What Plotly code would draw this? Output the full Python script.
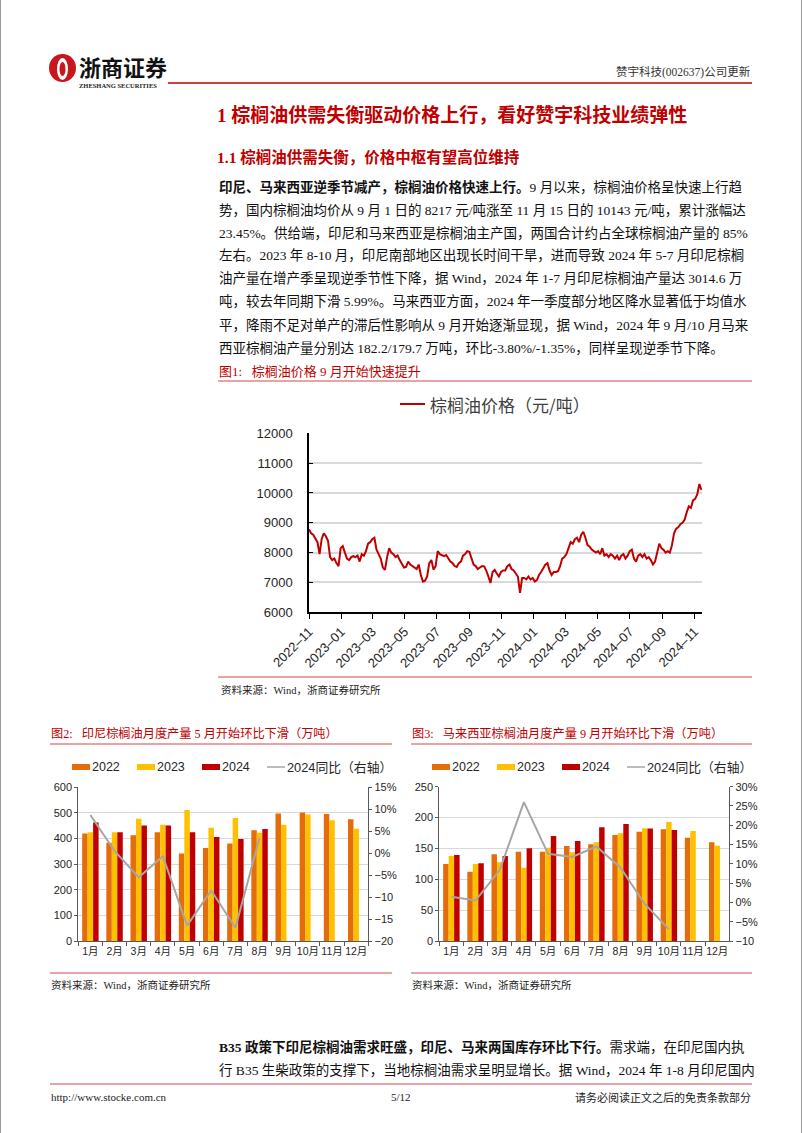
import plotly.graph_objects as go
import pandas as pd

W, H = 802, 1133

# ---------------- data ----------------
price_start = "2022-11-01"
price_step = "4D"
palm_price = [
    8780, 8650, 8600, 8450, 8350, 7950, 8450, 8650, 8550, 8400,
    7850, 7750, 7800, 7650, 7550, 8150, 8220, 8000, 7800, 7750,
    7850, 7880, 7850, 7900, 7700, 7950, 7900, 8050, 8300, 8350,
    8450, 8500, 8100, 7950, 7800, 7500, 7420, 7850, 8150, 8000,
    7950, 7850, 7900, 7750, 7600, 7500, 7520, 7700, 7600, 7550,
    7500, 7450, 7600, 7250, 7030, 7060, 7200, 7650, 7750, 7430,
    7550, 8050, 7950, 7900, 7880, 7920, 7800, 7700, 7650, 7550,
    7520, 7650, 7700, 7900, 7950, 8050, 8030, 7800, 7600, 7550,
    7450, 7500, 7550, 7540, 7400, 7200, 6980, 7350, 7420, 7300,
    7200, 7350, 7400, 7400, 7550, 7600, 7450, 7400, 7300, 7200,
    6650, 7150, 7150, 7100, 7200, 7100, 7150, 7030, 7080, 7250,
    7350, 7500, 7600, 7650, 7400, 7250, 7350, 7350, 7380, 7550,
    7800, 7850, 7950, 8150, 8350, 8300, 8450, 8500, 8350, 8600,
    8700, 8500, 8250, 8200, 8100, 8050, 8000, 8050, 7950, 8150,
    7900, 7950, 7850, 7950, 7900, 7800, 7900, 7750, 7900, 7950,
    7800, 7900, 8050, 8100, 7800, 7700, 7900, 7950, 7850, 7950,
    7800, 7850, 7750, 7600, 7700, 8000, 8300, 8150, 8100, 8000,
    8050, 8000, 8250, 8650, 8800, 8850, 8950, 9000, 9100, 9350,
    9550, 9500, 9750, 9800, 9950, 10300, 10100,
]
price_dates = pd.date_range(price_start, periods=len(palm_price), freq=price_step)

months = ["1月", "2月", "3月", "4月", "5月", "6月", "7月", "8月", "9月", "10月", "11月", "12月"]

indo_2022 = [420, 384, 413, 425, 342, 363, 381, 432, 498, 502, 496, 475]
indo_2023 = [425, 425, 477, 454, 511, 442, 480, 423, 454, 494, 471, 438]
indo_2024 = [463, 425, 451, 451, 425, 406, 398, 437]
indo_yoy = [8.7, 0.5, -5.5, -0.7, -16.5, -8.5, -17.0, 3.5]

malay_2022 = [124.7, 112.3, 140.4, 144.7, 144.7, 153.9, 156.6, 171.7, 177.0, 180.9, 167.3, 159.9]
malay_2023 = [137.7, 124.7, 127.4, 118.5, 151.2, 143.7, 159.9, 174.5, 182.5, 192.8, 178.2, 154.4]
malay_2024 = [139.3, 125.8, 137.7, 150.2, 170.1, 162.0, 184.2, 189.5, 182.2, 179.7]
malay_yoy = [1.5, 0.5, 8.4, 26.0, 12.6, 11.8, 14.5, 9.0, -0.4, -7.0]

indo_right_vals = [-20, -15, -10, -5, 0, 5, 10, 15]
indo_right_text = ["−20", "−15", "−10", "−5%", "0%", "5%", "10%", "15%"]
malay_right_vals = [-10, -5, 0, 5, 10, 15, 20, 25, 30]
malay_right_text = ["−10", "−5%", "0%", "5%", "10%", "15%", "20%", "25%", "30%"]

series_names = ["2022", "2023", "2024"]
yoy_name = "2024同比（右轴）"

# ---------------- styles ----------------
C22, C23, C24 = "#E46C0A", "#FFC000", "#C00000"
CGREY = "#A6A6A6"
RED = "#C00000"
LRED = "#D24B4B"
SERIF = "Liberation Serif, Noto Sans CJK SC"
SANS = "Liberation Sans, Arial"
MIX = "Liberation Sans, Noto Sans CJK SC"
CJK = "Noto Sans CJK SC"
GRID = "#D9D9D9"


def px(x):
    return x / W


def py(y):
    return 1 - y / H


fig = go.Figure()

fig.add_trace(go.Scatter(x=price_dates, y=palm_price, mode="lines",
                         line=dict(color=RED, width=2), xaxis="x", yaxis="y",
                         name="棕榈油价格（元/吨）", showlegend=False))

for name, vals, col in zip(series_names, [indo_2022, indo_2023, indo_2024], [C22, C23, C24]):
    fig.add_trace(go.Bar(x=months[:len(vals)], y=vals, marker=dict(color=col, line=dict(width=0)),
                         xaxis="x2", yaxis="y2", name=name, showlegend=False))
fig.add_trace(go.Scatter(x=months[:len(indo_yoy)], y=indo_yoy, mode="lines",
                         line=dict(color=CGREY, width=2), xaxis="x2", yaxis="y3",
                         name=yoy_name, showlegend=False))

for name, vals, col in zip(series_names, [malay_2022, malay_2023, malay_2024], [C22, C23, C24]):
    fig.add_trace(go.Bar(x=months[:len(vals)], y=vals, marker=dict(color=col, line=dict(width=0)),
                         xaxis="x3", yaxis="y4", name=name, showlegend=False))
fig.add_trace(go.Scatter(x=months[:len(malay_yoy)], y=malay_yoy, mode="lines",
                         line=dict(color=CGREY, width=2), xaxis="x3", yaxis="y5",
                         name=yoy_name, showlegend=False))

axis_font = dict(family=SANS, size=11, color="#262626")
month_font = dict(family=MIX, size=10.5, color="#262626")

fig.update_layout(
    width=W, height=H, margin=dict(l=0, r=0, t=0, b=0, pad=0, autoexpand=False),
    paper_bgcolor="white", plot_bgcolor="white",
    barmode="group", bargap=0.32, bargroupgap=0,
    showlegend=False,
    xaxis=dict(domain=[px(309), px(702)], anchor="y", type="date", automargin=False,
               range=["2022-11-01", "2024-11-15"], tick0="2022-11-01", dtick="M2",
               tickformat="%Y–%m", tickangle=-45, ticks="outside", ticklen=5,
               tickcolor="#000", showline=True, linecolor="#000", linewidth=1.5,
               showgrid=False, zeroline=False,
               tickfont=dict(family=SANS, size=13, color="#262626")),
    yaxis=dict(domain=[py(612.3), py(433.3)], anchor="x", range=[6000, 12000], dtick=1000,
               tickformat="d", automargin=False,
               showgrid=True, gridcolor=GRID, gridwidth=1.5, showline=True, linecolor="#000",
               linewidth=1.5, ticks="inside", ticklen=4, tickcolor="#000", zeroline=False,
               ticklabelstandoff=12,
               tickfont=dict(family=SANS, size=13, color="#262626")),
    xaxis2=dict(domain=[px(78.3), px(368.3)], anchor="y2", type="category", automargin=False,
                categoryorder="array", categoryarray=months, range=[-0.5, 11.5],
                tickson="boundaries", ticks="outside", ticklen=4, tickcolor="#595959",
                tickangle=0, showline=True, linecolor="#595959", linewidth=1, showgrid=False,
                tickfont=month_font),
    yaxis2=dict(domain=[py(941), py(787.3)], anchor="x2", range=[0, 600], dtick=100,
                automargin=False,
                showgrid=True, gridcolor=GRID, gridwidth=1, showline=True, linecolor="#595959",
                ticks="outside", ticklen=3, tickcolor="#595959", zeroline=False,
                tickfont=axis_font),
    yaxis3=dict(overlaying="y2", side="right", anchor="x2", range=[-20, 15], automargin=False,
                tickmode="array", tickvals=indo_right_vals, ticktext=indo_right_text,
                showgrid=False, showline=True, linecolor="#595959", ticks="outside",
                ticklen=3, tickcolor="#595959", zeroline=False, tickfont=axis_font),
    xaxis3=dict(domain=[px(439.3), px(729.3)], anchor="y4", type="category", automargin=False,
                categoryorder="array", categoryarray=months, range=[-0.5, 11.5],
                tickson="boundaries", ticks="outside", ticklen=4, tickcolor="#595959",
                tickangle=0, showline=True, linecolor="#595959", linewidth=1, showgrid=False,
                tickfont=month_font),
    yaxis4=dict(domain=[py(941), py(786.7)], anchor="x3", range=[0, 250], dtick=50,
                automargin=False,
                showgrid=True, gridcolor=GRID, gridwidth=1, showline=True, linecolor="#595959",
                ticks="outside", ticklen=3, tickcolor="#595959", zeroline=False,
                tickfont=axis_font),
    yaxis5=dict(overlaying="y4", side="right", anchor="x3", range=[-10, 30], automargin=False,
                tickmode="array", tickvals=malay_right_vals, ticktext=malay_right_text,
                showgrid=False, showline=True, linecolor="#595959", ticks="outside",
                ticklen=3, tickcolor="#595959", zeroline=False, tickfont=axis_font),
)

shapes = []
annots = []


def hline(x0, x1, y, color, width=1.0):
    shapes.append(dict(type="line", xref="paper", yref="paper", x0=px(x0), x1=px(x1),
                       y0=py(y), y1=py(y), line=dict(color=color, width=width)))


def rect(x0, y0, x1, y1, color):
    shapes.append(dict(type="rect", xref="paper", yref="paper", x0=px(x0), x1=px(x1),
                       y0=py(y1), y1=py(y0), fillcolor=color, line=dict(width=0)))


def text(s, x, y, size, color="#000", family=SERIF, xanchor="left"):
    annots.append(dict(text=s, x=px(x), y=py(y), xref="paper", yref="paper",
                       xanchor=xanchor, yanchor="middle", showarrow=False,
                       font=dict(size=size, color=color, family=family), borderpad=0))


# page border
shapes.append(dict(type="line", xref="paper", yref="paper", x0=px(0.5), x1=px(0.5), y0=0, y1=1,
                   line=dict(color="#9a9a9a", width=1)))
shapes.append(dict(type="line", xref="paper", yref="paper", x0=px(801.5), x1=px(801.5), y0=0, y1=1,
                   line=dict(color="#9a9a9a", width=1)))

# logo
shapes.append(dict(type="circle", xref="paper", yref="paper", x0=px(49), x1=px(76), y0=py(82), y1=py(54),
                   fillcolor="#C8161D", line=dict(width=0)))
shapes.append(dict(type="circle", xref="paper", yref="paper", x0=px(57), x1=px(68), y0=py(80), y1=py(58),
                   fillcolor="white", line=dict(width=0)))
shapes.append(dict(type="circle", xref="paper", yref="paper", x0=px(59.5), x1=px(65.5), y0=py(76), y1=py(62),
                   fillcolor="#C8161D", line=dict(width=0)))
text("<b>浙商证券</b>", 78, 66, 22, "#111", CJK)
text("<b>ZHESHANG SECURITIES</b>", 78, 85, 6.5, "#222", "Liberation Serif")
text("赞宇科技(002637)公司更新", 752, 72, 11.5, "#333", SERIF, "right")
hline(168, 752, 83, RED, 1.5)

# titles
text("<b>1 棕榈油供需失衡驱动价格上行，看好赞宇科技业绩弹性</b>", 216, 115, 19, RED, SERIF)
text("<b>1.1 棕榈油供需失衡，价格中枢有望高位维持</b>", 216, 157, 15.5, RED, SERIF)

para = [
    "<b>印尼、马来西亚逆季节减产，棕榈油价格快速上行。</b>9 月以来，棕榈油价格呈快速上行趋",
    "势，国内棕榈油均价从 9 月 1 日的 8217 元/吨涨至 11 月 15 日的 10143 元/吨，累计涨幅达",
    "23.45%。供给端，印尼和马来西亚是棕榈油主产国，两国合计约占全球棕榈油产量的 85%",
    "左右。2023 年 8-10 月，印尼南部地区出现长时间干旱，进而导致 2024 年 5-7 月印尼棕榈",
    "油产量在增产季呈现逆季节性下降，据 Wind，2024 年 1-7 月印尼棕榈油产量达 3014.6 万",
    "吨，较去年同期下滑 5.99%。马来西亚方面，2024 年一季度部分地区降水显著低于均值水",
    "平，降雨不足对单产的滞后性影响从 9 月开始逐渐显现，据 Wind，2024 年 9 月/10 月马来",
    "西亚棕榈油产量分别达 182.2/179.7 万吨，环比-3.80%/-1.35%，同样呈现逆季节下降。",
]
for i, line in enumerate(para):
    text(line, 218, 187 + 23 * i, 13.5, "#111", SERIF)

# figure 1
text("图1:   棕榈油价格 9 月开始快速提升", 218, 371, 13, RED, SERIF)
hline(218, 752, 381, LRED, 1.2)
shapes.append(dict(type="line", xref="paper", yref="paper", x0=px(400), x1=px(425), y0=py(404), y1=py(404),
                   line=dict(color=RED, width=2)))
text("棕榈油价格（元/吨）", 429, 404, 17, "#404040", CJK)
hline(218, 752, 677, LRED, 1.2)
text("资料来源：Wind，浙商证券研究所", 220, 690, 10.5, "#222", SERIF)

for (x0, x1, cap) in [(50, 392, "图2:   印尼棕榈油月度产量 5 月开始环比下滑（万吨）"),
                      (411, 752, "图3:   马来西亚棕榈油月度产量 9 月开始环比下滑（万吨）")]:
    text(cap, x0, 733, 12.2, RED, SERIF)
    hline(x0, x1, 744, LRED, 1.2)
    hline(x0, x1, 973, LRED, 1.0)
    text("资料来源：Wind，浙商证券研究所", x0, 985, 10.5, "#222", SERIF)

for lx in [72, 432]:
    for k, (nm, col) in enumerate(zip(series_names, [C22, C23, C24])):
        sx = lx + 65 * k
        rect(sx, 764, sx + 18, 770, col)
        text(nm, sx + 19, 767, 12.5, "#262626", SANS)
    sx = lx + 195
    shapes.append(dict(type="line", xref="paper", yref="paper", x0=px(sx), x1=px(sx + 18),
                       y0=py(767), y1=py(767), line=dict(color=CGREY, width=1.5)))
    text(yoy_name, sx + 19, 767, 12.8, "#262626", MIX)

text("<b>B35 政策下印尼棕榈油需求旺盛，印尼、马来两国库存环比下行。</b>需求端，在印尼国内执",
     218, 1047, 13.5, "#111", SERIF)
text("行 B35 生柴政策的支撑下，当地棕榈油需求呈明显增长。据 Wind，2024 年 1-8 月印尼国内",
     218, 1070, 13.5, "#111", SERIF)
hline(50, 752, 1084, LRED, 1.2)
text("http://www.stocke.com.cn", 50, 1097, 11, "#222", "Liberation Serif")
text("5/12", 401, 1097, 11, "#222", "Liberation Serif", "center")
text("请务必阅读正文之后的免责条款部分", 752, 1097, 11, "#222", SERIF, "right")

fig.update_layout(shapes=shapes, annotations=annots)
fig.write_html("out.html",
               post_script="document.body.style.margin='0';document.body.style.padding='0';"
                           "document.body.style.overflow='hidden';")
